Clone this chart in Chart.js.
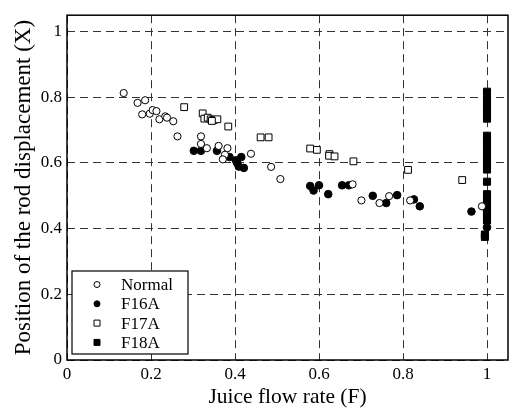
<!DOCTYPE html>
<html>
<head>
<meta charset="utf-8">
<script src="https://cdn.jsdelivr.net/npm/chart.js@4/dist/chart.umd.min.js"></script>
<style>
  body { margin: 0; background: #fff; }
  #wrap { width: 514px; height: 410px; }
</style>
</head>
<body>
<div id="wrap"><canvas id="rod-graph" width="514" height="410"></canvas></div>
<script>
// values
var normalX = [0.135, 0.168, 0.186, 0.179, 0.197, 0.204, 0.213, 0.220, 0.234, 0.238, 0.253, 0.263, 0.319, 0.319,
               0.333, 0.361, 0.382, 0.376, 0.371, 0.438, 0.486, 0.508, 0.680, 0.701, 0.744, 0.767, 0.817, 0.988];
var normalY = [0.813, 0.783, 0.791, 0.748, 0.750, 0.761, 0.758, 0.733, 0.742, 0.738, 0.727, 0.681, 0.681, 0.658,
               0.645, 0.652, 0.645, 0.625, 0.611, 0.628, 0.588, 0.551, 0.535, 0.486, 0.478, 0.499, 0.486, 0.468];

var f16aX = [0.302, 0.319, 0.357, 0.387, 0.402, 0.415, 0.409, 0.421, 0.405, 0.579, 0.587, 0.600, 0.622, 0.655,
             0.671, 0.728, 0.760, 0.786, 0.826, 0.840, 0.963, 1.000];
var f16aY = [0.637, 0.637, 0.637, 0.618, 0.608, 0.618, 0.589, 0.585, 0.600, 0.530, 0.516, 0.532, 0.505, 0.532,
             0.532, 0.500, 0.478, 0.502, 0.489, 0.468, 0.452, 0.404];

var f17aX = [0.279, 0.323, 0.327, 0.335, 0.342, 0.349, 0.358, 0.345, 0.384, 0.461, 0.480, 0.579, 0.595, 0.625,
             0.624, 0.637, 0.682, 0.812, 0.941];
var f17aY = [0.770, 0.751, 0.735, 0.738, 0.733, 0.731, 0.733, 0.728, 0.711, 0.678, 0.678, 0.644, 0.640, 0.627,
             0.622, 0.620, 0.605, 0.579, 0.548];

var f18aX = [1.0, 1.0, 1.0, 1.0, 1.0, 1.0, 1.0, 1.0, 1.0, 1.0, 1.0, 1.0, 1.0, 1.0,
             1.0, 1.0, 1.0, 1.0, 1.0, 1.0, 1.0, 1.0, 0.995, 0.995];
var f18aY = [0.817, 0.795, 0.780, 0.765, 0.750, 0.735, 0.683, 0.668, 0.653, 0.638, 0.623, 0.608, 0.593, 0.580,
             0.543, 0.505, 0.492, 0.478, 0.464, 0.450, 0.436, 0.425, 0.382, 0.375];

var xTickLabels = ['0', '0.2', '0.4', '0.6', '0.8', '1'];
var yTickLabels = ['0', '0.2', '0.4', '0.6', '0.8', '1'];

function pts(xs, ys) {
	return xs.map(function(x, i) { return {x: x, y: ys[i]}; });
}

var serif = "'Liberation Serif', 'DejaVu Serif', serif";
Chart.defaults.font.family = serif;
Chart.defaults.color = '#000';

// box round the plot and the legend inside it
var framePlugin = {
	id: 'frame',
	afterDraw: function(chart) {
		var ctx = chart.ctx, a = chart.chartArea;
		ctx.save();
		ctx.strokeStyle = '#000';
		ctx.lineWidth = 1.5;
		ctx.strokeRect(a.left, a.top, a.right - a.left, a.bottom - a.top);

		var bx = a.left + 5, by = a.bottom - 89, bw = 116, bh = 83;
		ctx.fillStyle = '#fff';
		ctx.fillRect(bx, by, bw, bh);
		ctx.lineWidth = 1.2;
		ctx.strokeRect(bx, by, bw, bh);

		ctx.font = '17px ' + serif;
		ctx.textBaseline = 'middle';
		ctx.textAlign = 'left';
		chart.data.datasets.forEach(function(ds, i) {
			var cy = by + 13.5 + i * 19.3, cx = bx + 25;
			ctx.beginPath();
			ctx.lineWidth = 1;
			ctx.strokeStyle = '#000';
			ctx.fillStyle = ds.backgroundColor;
			if (ds.pointStyle === 'circle') {
				ctx.arc(cx, cy, 3, 0, Math.PI * 2);
			} else {
				ctx.rect(cx - 3, cy - 3, 6, 6);
			}
			ctx.fill();
			ctx.stroke();
			ctx.fillStyle = '#000';
			ctx.fillText(ds.label, bx + 49, cy + 1);
		});
		ctx.restore();
	}
};

var rodctx = document.getElementById('rod-graph');
var rodChart = new Chart(rodctx, {
	type: 'scatter',
	data: {
		datasets: [{
			label: 'Normal',
			data: pts(normalX, normalY),
			pointStyle: 'circle',
			pointRadius: 3.6,
			backgroundColor: '#fff',
			borderColor: '#000',
			borderWidth: 1
		}, {
			label: 'F16A',
			data: pts(f16aX, f16aY),
			pointStyle: 'circle',
			pointRadius: 3.8,
			backgroundColor: '#000',
			borderColor: '#000',
			borderWidth: 1
		}, {
			label: 'F17A',
			data: pts(f17aX, f17aY),
			pointStyle: 'rect',
			pointRadius: 4.8,
			backgroundColor: '#fff',
			borderColor: '#000',
			borderWidth: 1
		}, {
			label: 'F18A',
			data: pts(f18aX, f18aY),
			pointStyle: 'rect',
			pointRadius: 5,
			backgroundColor: '#000',
			borderColor: '#000',
			borderWidth: 1
		}]
	},
	options: {
		responsive: false,
		animation: false,
		layout: { padding: { top: 11, right: 1, left: 0, bottom: 0 } },
		plugins: {
			legend: { display: false },
			tooltip: { enabled: false }
		},
		scales: {
			x: {
				type: 'linear',
				min: 0,
				max: 1.05,
				afterFit: function(s) { s.height = 50; },
				ticks: {
					stepSize: 0.2,
					includeBounds: false,
					padding: 4,
					maxRotation: 0,
					font: { size: 17 },
					callback: function(v) { return xTickLabels[Math.round(v / 0.2)]; }
				},
				grid: { color: '#333', lineWidth: 1, drawTicks: false },
				border: { display: false, dash: [8, 5] },
				title: {
					display: true,
					text: 'Juice flow rate (F)',
					font: { size: 21.5 },
					padding: { top: 0, bottom: 0 }
				}
			},
			y: {
				min: 0,
				max: 1.05,
				afterFit: function(s) { s.width = 67; },
				ticks: {
					stepSize: 0.2,
					includeBounds: false,
					padding: 5,
					font: { size: 17 },
					callback: function(v) { return yTickLabels[Math.round(v / 0.2)]; }
				},
				grid: { color: '#333', lineWidth: 1, drawTicks: false },
				border: { display: false, dash: [8, 5] },
				title: {
					display: true,
					text: 'Position of the rod displacement (X)',
					font: { size: 23 },
					padding: { top: 10, bottom: 0 }
				}
			}
		}
	},
	plugins: [framePlugin]
});
</script>
</body>
</html>
